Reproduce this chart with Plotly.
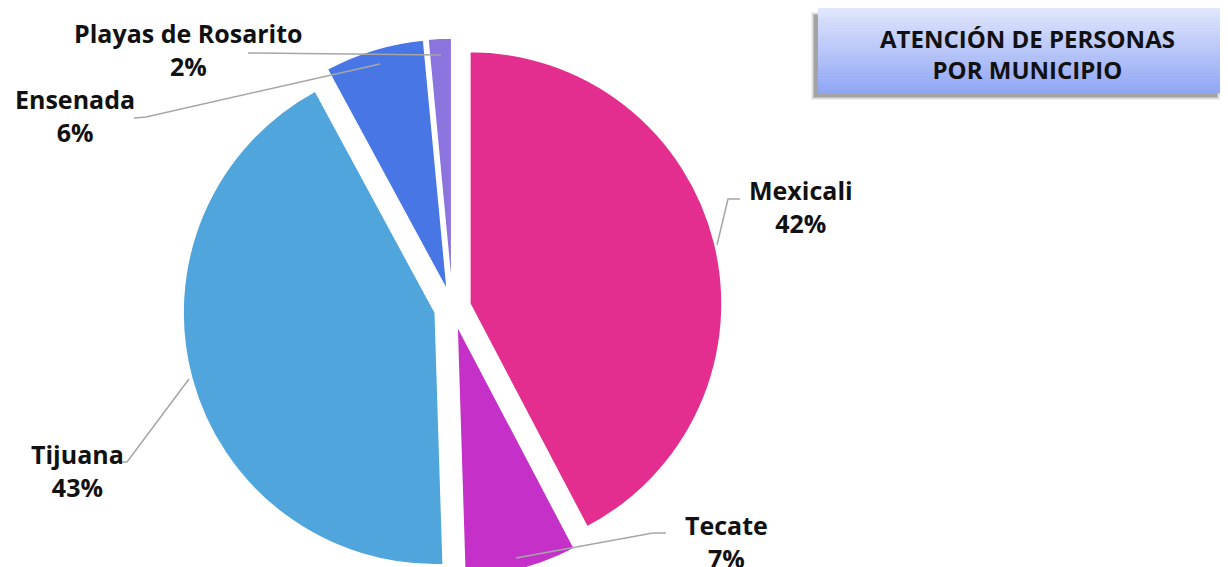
import plotly.graph_objects as go

# ---- data ----
municipios = ["Mexicali", "Tecate", "Tijuana", "Ensenada", "Playas de Rosarito"]
valores = [42.3, 7.2, 42.6, 6.4, 1.5]
porcentajes = ["42%", "7%", "43%", "6%", "2%"]
colores = ["#E32E8F", "#C530C8", "#4FA5DC", "#4876E4", "#8C74DE"]
tirones = [0.071, 0.071, 0.071, 0.071, 0.071]
titulo = "ATENCIÓN DE PERSONAS<br>POR MUNICIPIO"

# page body has an 8px margin: figure pixels = reference pixels - 8
OFF = 8
W, H = 1220, 600


def px(x):
    return (x - OFF) / W


def py(y):
    return 1 - (y - OFF) / H


CX, CY, HALF = 452.5, 308, 270

fig = go.Figure()
fig.add_trace(go.Pie(
    labels=municipios,
    values=valores,
    sort=False,
    direction="clockwise",
    rotation=0,
    pull=tirones,
    marker=dict(colors=colores, line=dict(color="white", width=1.5)),
    textinfo="none",
    hoverinfo="label+percent",
    domain=dict(x=[px(CX - HALF), px(CX + HALF)], y=[py(CY + HALF), py(CY - HALF)]),
    showlegend=False,
))

LABEL_FONT = dict(family="Open Sans", size=25, color="#111111", weight="bold")

# label positions (centre of the two-line label)
label_pos = {
    "Mexicali": (801, 206),
    "Tecate": (726, 541),
    "Tijuana": (77, 471),
    "Ensenada": (75, 116),
    "Playas de Rosarito": (188, 49),
}
annotations = []
for name, pct in zip(municipios, porcentajes):
    x, y = label_pos[name]
    annotations.append(dict(
        x=px(x), y=py(y), xref="paper", yref="paper",
        text=f"{name}<br>{pct}", showarrow=False,
        xanchor="center", yanchor="middle", align="center",
        font=LABEL_FONT,
    ))

# leader lines
leaders = [
    [(740, 199), (728, 199), (717, 245)],
    [(666, 533), (653, 533), (516, 558)],
    [(114, 462), (127, 462), (189, 379)],
    [(134, 118), (146, 117), (380, 64)],
    [(248, 53), (441, 55)],
]
shapes = []
for pts in leaders:
    path = "M " + " L ".join(f"{px(a):.5f},{py(b):.5f}" for a, b in pts)
    shapes.append(dict(type="path", path=path, xref="paper", yref="paper",
                       line=dict(color="#A6A6A6", width=1.5)))

# title box shadow
bx0, by0, bx1, by1 = 818, 8, 1223, 93
for i, op in enumerate([0.08, 0.12, 0.18, 0.24]):
    shapes.append(dict(type="rect", xref="paper", yref="paper",
                       x0=px(bx0 - 7 + i), x1=px(bx1 - 3 - i),
                       y0=py(by0 + 4 + i), y1=py(by1 + 7 - i),
                       fillcolor=f"rgba(70,70,70,{op})", line=dict(width=0),
                       layer="above"))
# title box gradient
top = (224, 230, 252)
bot = (145, 167, 246)
n = 30
for i in range(n):
    t = i / (n - 1)
    c = tuple(round(top[k] + (bot[k] - top[k]) * t) for k in range(3))
    y0 = by0 + (by1 - by0) * i / n
    y1 = by0 + (by1 - by0) * (i + 1) / n
    shapes.append(dict(type="rect", xref="paper", yref="paper",
                       x0=px(bx0), x1=px(bx1), y0=py(y1 + 0.5), y1=py(y0),
                       fillcolor=f"rgb{c}", line=dict(width=0), layer="above"))

annotations.append(dict(
    x=px(1027), y=py(54), xref="paper", yref="paper",
    text=titulo, showarrow=False, xanchor="center", yanchor="middle",
    align="center", font=dict(family="Open Sans", size=24, color="#111111", weight="bold"),
))

fig.update_layout(
    width=W, height=H,
    margin=dict(l=0, r=0, t=0, b=0),
    paper_bgcolor="white", plot_bgcolor="white",
    annotations=annotations, shapes=shapes,
)

fig.write_html("out.html")
